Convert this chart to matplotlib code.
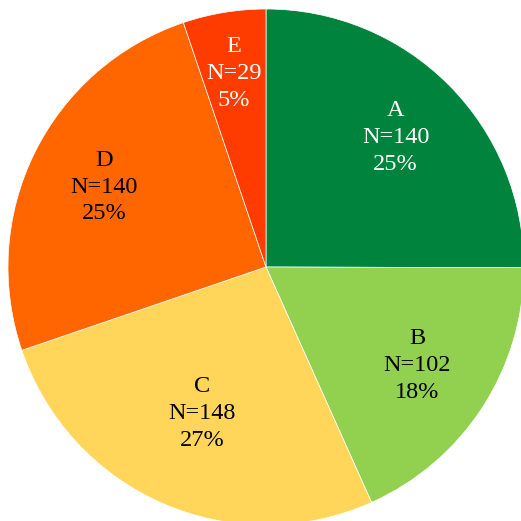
import matplotlib
matplotlib.use('Agg')
import matplotlib.pyplot as plt
import numpy as np

# 数据
categories = ['A', 'B', 'C', 'D', 'E']
counts = [140, 102, 148, 140, 29]
percent_labels = ['25%', '18%', '27%', '25%', '5%']

colors = ['#00843D', '#92D050', '#FFD55A', '#FF6600', '#FF3C00']
text_colors = ['white', 'black', 'black', 'black', 'white']
# 每个标签离圆心的相对距离
label_dist = [0.71, 0.70, 0.62, 0.70, 0.76]

plt.rcParams['font.family'] = ['Liberation Serif', 'DejaVu Serif']

fig = plt.figure(figsize=(5.21, 5.21), dpi=100)
# 饼图半径约 258 像素，圆心约 (266, 267)
ax = fig.add_axes([8 / 521, -4 / 521, 516 / 521, 516 / 521])

wedges, _ = ax.pie(counts, colors=colors, startangle=90, counterclock=False,
                   wedgeprops=dict(edgecolor='white', linewidth=0.5))

for w, c, n, p, tc, d in zip(wedges, categories, counts, percent_labels,
                             text_colors, label_dist):
    ang = np.deg2rad((w.theta1 + w.theta2) / 2)
    ax.text(d * np.cos(ang), d * np.sin(ang), f'{c}\nN={n}\n{p}',
            ha='center', va='center', fontsize=17.5, linespacing=1.36,
            color=tc)

ax.set_xlim(-1, 1)
ax.set_ylim(-1, 1)
ax.set_aspect('equal')

plt.savefig('out.png', dpi=100)
plt.close()
